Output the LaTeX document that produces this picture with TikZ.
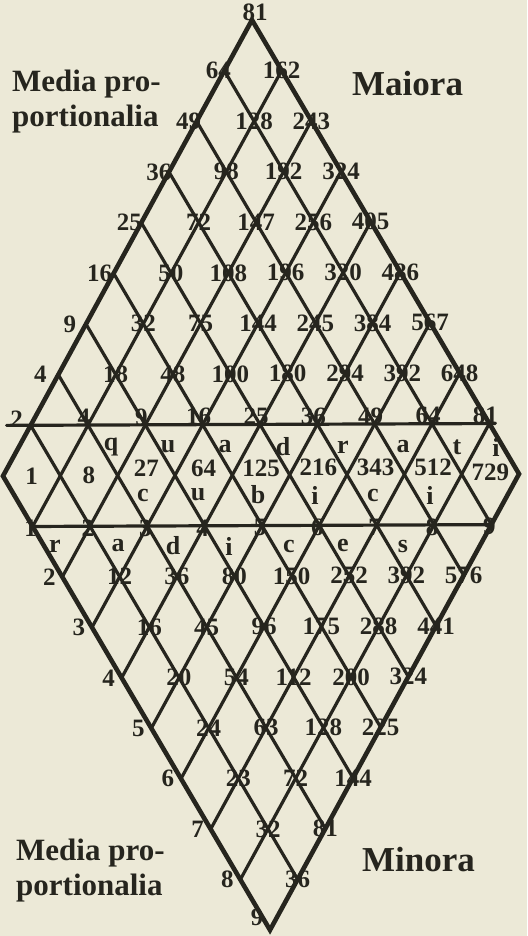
\documentclass[tikz,border=0pt]{standalone}
\usepackage{fontspec}
\setmainfont{Liberation Serif}
\definecolor{ink}{HTML}{26251E}
\definecolor{paper}{HTML}{ECE9D7}
\tikzset{
  lat/.style={draw=ink,line width=3.2pt,line cap=round},
  edge/.style={draw=ink,line width=4.6pt,line join=miter},
  hline/.style={draw=ink,line width=3.2pt,line cap=round},
  num/.style={text=ink,inner sep=0pt,font=\fontsize{25}{25}\selectfont\bfseries},
  let/.style={text=ink,inner sep=0pt,font=\fontsize{26}{26}\selectfont\bfseries},
  title/.style={text=ink,inner sep=0pt,align=left,font=\fontsize{31}{35}\selectfont\bfseries},
  titlebig/.style={text=ink,inner sep=0pt,font=\fontsize{35}{35}\selectfont\bfseries},
}
\begin{document}
\begin{tikzpicture}[x=1pt,y=-1pt]
\fill[paper] (0,0) rectangle (527,936);
\useasboundingbox (0,0) rectangle (527,936);
% lattice vertices
\foreach \a in {0,...,9}{\foreach \b in {0,...,9}{
  \coordinate (v-\a-\b) at ({252-27.67*\a+29.67*\b},{20+50.67*\a+50.44*\b});
}}
% lattice lines
\foreach \k in {1,...,8}{
  \draw[lat] (v-0-\k) -- (v-9-\k);
  \draw[lat] (v-\k-0) -- (v-\k-9);
}
\draw[edge] (v-0-0) -- (v-9-0) -- (v-9-9) -- (v-0-9) -- cycle;
\draw[hline] ([xshift=-24pt]v-8-0) -- ([xshift=6pt]v-0-8);
\draw[hline] (v-9-1) -- (v-1-9);
% apex and bottom
\node[num] (n-0-0) at ([xshift=3pt,yshift=8pt]v-0-0) {81};
\node[num] (n-9-9) at (257,917) {9};
% upper left edge
\foreach \a/\t in {1/64,2/49,3/36,4/25,5/16,6/9,7/4}{
  \pgfmathsetmacro{\sh}{-4-2.0*\a}
  \node[num] (n-\a-0) at ([xshift=\sh pt]v-\a-0) {\t};
}
% upper interior and right edge
\foreach \a/\b/\t in {0/1/162,1/1/128,0/2/243,2/1/98,1/2/192,0/3/324,
  3/1/72,2/2/147,1/3/256,0/4/405,
  4/1/50,3/2/108,2/3/196,1/4/320,0/5/486,
  5/1/32,4/2/75,3/3/144,2/4/245,1/5/384,0/6/567,
  6/1/18,5/2/48,4/3/100,3/4/180,2/5/294,1/6/392,0/7/648}{
  \node[num] (n-\a-\b) at (v-\a-\b) {\t};
}
% squares on the upper line
\node[num] (q-8-0) at ([xshift=-14pt,yshift=6pt]v-8-0) {2};
\foreach \a/\b/\t in {7/1/4,6/2/9,5/3/16,4/4/25,3/5/36,2/6/49,1/7/64,0/8/81}{
  \node[num] (q-\a-\b) at ([xshift=-4pt,yshift=8pt]v-\a-\b) {\t};
}
% roots on the lower line
\foreach \a/\b in {9/1,8/2,7/3,6/4,5/5,4/6,3/7,2/8,1/9}{
  \node[num] (r-\a-\b) at ([xshift=-2pt,yshift=-2pt]v-\a-\b) {\b};
}
% cubes in the middle band
\foreach \b/\t/\dy in {0/1/0,1/8/0,2/27/-7,3/64/-7,4/125/-7,5/216/-7,6/343/-7,7/512/-7,8/729/-2}{
  \pgfmathsetmacro{\cx}{252-27.67*(8.5-\b)+29.67*(\b+0.5)}
  \pgfmathsetmacro{\cy}{20+50.67*(8.5-\b)+50.44*(\b+0.5)+\dy}
  \node[num] (c-\b) at (\cx,\cy) {\t};
}
% quadrati
\foreach \x/\l [count=\i] in {111/q,168/u,225/a,283/d,343/r,403/a,457/t,496/i}{
  \node[let] (qd-\i) at (\x,447) {\l};
}
% cubici
\foreach \x/\l [count=\i] in {143/c,198/u,258/b,315/i,373/c,430/i}{
  \node[let] (cb-\i) at (\x,495) {\l};
}
% radices
\foreach \x/\l [count=\i] in {55/r,118/a,173/d,229/i,289/c,343/e,403/s}{
  \node[let] (rd-\i) at (\x,546) {\l};
}
% lower triangle, left edge
\foreach \b/\t in {2/2,3/3,4/4,5/5,6/6,7/7,8/8}{
  \node[num] (n-9-\b) at ([xshift=-13pt]v-9-\b) {\t};
}
% lower triangle, interior and right edge
\foreach \a/\b/\t in {8/3/12,7/4/36,6/5/80,5/6/150,4/7/252,3/8/392,2/9/576,
  8/4/16,7/5/45,6/6/96,5/7/175,4/8/288,3/9/441,
  8/5/20,7/6/54,6/7/112,5/8/200,4/9/324,
  8/6/24,7/7/63,6/8/128,5/9/225,
  8/7/23,7/8/72,6/9/144,
  8/8/32,7/9/81,
  8/9/36}{
  \node[num] (n-\a-\b) at (v-\a-\b) {\t};
}
% corner titles
\node[title,anchor=west] (tl) at (12,102) {Media pro-\\portionalia};
\node[titlebig,anchor=west] (tr) at (352,84) {Maiora};
\node[title,anchor=west] (bl) at (16,871) {Media pro-\\portionalia};
\node[titlebig,anchor=west] (br) at (362,860) {Minora};
\end{tikzpicture}
\end{document}
